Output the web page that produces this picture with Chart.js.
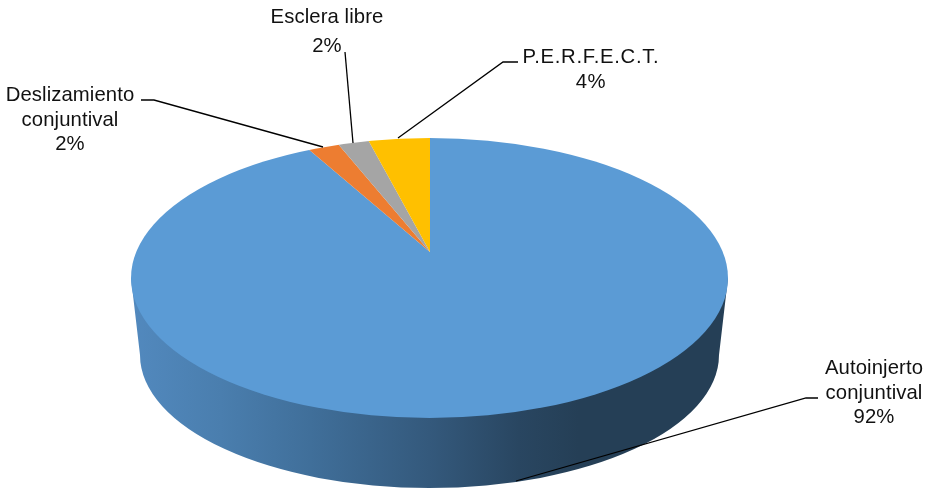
<!DOCTYPE html>
<html>
<head>
<meta charset="utf-8">
<script src="https://cdn.jsdelivr.net/npm/chart.js@4"></script>
<style>
  html, body { margin: 0; background: #fff; }
  canvas { display: block; }
</style>
</head>
<body>
<canvas id="pieChart" width="925" height="489"></canvas>
<script>
const categories = ['Autoinjerto conjuntival', 'Deslizamiento conjuntival', 'Esclera libre', 'P.E.R.F.E.C.T.'];
const values = [92, 2, 2, 4];
const sliceColors = ['#5B9BD5', '#ED7D31', '#A5A5A5', '#FFC000'];

// label layout: text lines split the way the picture wraps them
const labelLines = [
  ['Autoinjerto', 'conjuntival'],
  ['Deslizamiento', 'conjuntival'],
  ['Esclera libre'],
  ['P.E.R.F.E.C.T.']
];
const labelX = [874, 70, 327, 591];
const labelBaselines = [[374, 399, 423], [101, 126, 150], [23, 52], [63, 88]];
const labelSpacing = ['0.1px', '0.1px', '0.1px', '0.7px'];
const leaders = [
  [[818, 398], [806, 398], [516, 481]],
  [[141, 100], [154, 100], [323, 147]],
  [[345, 52], [353, 143]],
  [[518, 62], [503, 62], [398, 138]]
];

// projected disc
const topDisc = { x: 429.5, y: 278, rx: 298.5, ry: 140 };
const baseDisc = { x: 429.5, y: 355, rx: 289.5, ry: 133 };
const apex = { x: 430, y: 252 };
const tilt = 0.465;
const reach = 400;

const pie3d = {
  id: 'pie3d',
  beforeDatasetsDraw(chart) {
    const ctx = chart.ctx;
    const arc = chart.getDatasetMeta(0).data[0];

    // side wall
    const grad = ctx.createLinearGradient(topDisc.x - topDisc.rx, 0, topDisc.x + topDisc.rx, 0);
    grad.addColorStop(0, '#5289BE');
    grad.addColorStop(0.15, '#4A7EAE');
    grad.addColorStop(0.3, '#406F9A');
    grad.addColorStop(0.5, '#34597C');
    grad.addColorStop(0.65, '#294661');
    grad.addColorStop(0.75, '#253F56');
    grad.addColorStop(1, '#253F56');
    ctx.save();
    ctx.beginPath();
    ctx.moveTo(topDisc.x - topDisc.rx, topDisc.y);
    ctx.lineTo(baseDisc.x - baseDisc.rx, baseDisc.y);
    ctx.ellipse(baseDisc.x, baseDisc.y, baseDisc.rx, baseDisc.ry, 0, Math.PI, 0, true);
    ctx.lineTo(topDisc.x + topDisc.rx, topDisc.y);
    ctx.closePath();
    ctx.fillStyle = grad;
    ctx.fill();
    ctx.restore();

    // top face: slices clipped to the ellipse, flattened around the apex
    ctx.save();
    ctx.beginPath();
    ctx.ellipse(topDisc.x, topDisc.y, topDisc.rx, topDisc.ry, 0, 0, Math.PI * 2);
    ctx.clip();
    const f = reach / arc.outerRadius;
    ctx.translate(apex.x, apex.y);
    ctx.scale(f, f * tilt);
    ctx.translate(-arc.x, -arc.y);
  },
  afterDatasetsDraw(chart) {
    chart.ctx.restore();
  },
  afterDraw(chart) {
    const ctx = chart.ctx;
    ctx.save();
    ctx.strokeStyle = '#000';
    ctx.lineWidth = 1.3;
    leaders.forEach(pts => {
      ctx.beginPath();
      pts.forEach((p, i) => (i ? ctx.lineTo(p[0], p[1]) : ctx.moveTo(p[0], p[1])));
      ctx.stroke();
    });
    ctx.fillStyle = '#111';
    ctx.font = '20.3px "Liberation Sans", Arial, sans-serif';
    ctx.textAlign = 'center';
    ctx.textBaseline = 'alphabetic';
    const total = values.reduce((a, b) => a + b, 0);
    categories.forEach((name, i) => {
      ctx.letterSpacing = labelSpacing[i];
      const lines = labelLines[i].concat(Math.round(values[i] / total * 100) + '%');
      lines.forEach((line, j) => ctx.fillText(line, labelX[i], labelBaselines[i][j]));
    });
    ctx.restore();
  }
};

new Chart(document.getElementById('pieChart'), {
  type: 'pie',
  data: {
    labels: categories,
    datasets: [{
      data: values,
      backgroundColor: sliceColors,
      borderWidth: 0,
      clip: false
    }]
  },
  options: {
    responsive: false,
    animation: false,
    plugins: {
      legend: { display: false },
      tooltip: { enabled: false }
    }
  },
  plugins: [pie3d]
});
</script>
</body>
</html>
